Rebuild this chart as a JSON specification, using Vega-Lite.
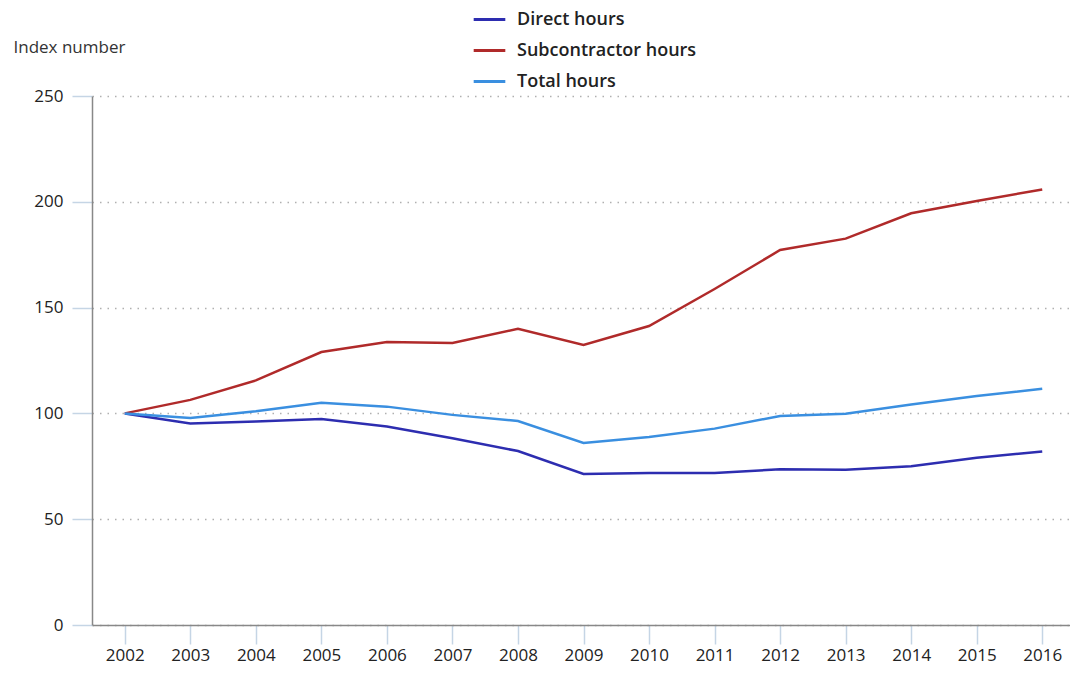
{
  "$schema": "https://vega.github.io/schema/vega-lite/v6.json",
  "autosize": "none",
  "width": 983,
  "height": 529,
  "padding": {"left": 92, "top": 96, "right": 0, "bottom": 48},
  "background": "white",
  "config": {
    "view": {"stroke": null},
    "font": "Open Sans"
  },
  "data": {
    "values": [
      {"year": "2002", "series": "Direct hours", "value": 100},
      {"year": "2003", "series": "Direct hours", "value": 95.2},
      {"year": "2004", "series": "Direct hours", "value": 96.2},
      {"year": "2005", "series": "Direct hours", "value": 97.4},
      {"year": "2006", "series": "Direct hours", "value": 93.8},
      {"year": "2007", "series": "Direct hours", "value": 88.3},
      {"year": "2008", "series": "Direct hours", "value": 82.2},
      {"year": "2009", "series": "Direct hours", "value": 71.4},
      {"year": "2010", "series": "Direct hours", "value": 71.8},
      {"year": "2011", "series": "Direct hours", "value": 71.8},
      {"year": "2012", "series": "Direct hours", "value": 73.6},
      {"year": "2013", "series": "Direct hours", "value": 73.4},
      {"year": "2014", "series": "Direct hours", "value": 75},
      {"year": "2015", "series": "Direct hours", "value": 79},
      {"year": "2016", "series": "Direct hours", "value": 82},
      {"year": "2002", "series": "Subcontractor hours", "value": 100},
      {"year": "2003", "series": "Subcontractor hours", "value": 106.4},
      {"year": "2004", "series": "Subcontractor hours", "value": 115.6},
      {"year": "2005", "series": "Subcontractor hours", "value": 129},
      {"year": "2006", "series": "Subcontractor hours", "value": 133.7},
      {"year": "2007", "series": "Subcontractor hours", "value": 133.3},
      {"year": "2008", "series": "Subcontractor hours", "value": 140},
      {"year": "2009", "series": "Subcontractor hours", "value": 132.3},
      {"year": "2010", "series": "Subcontractor hours", "value": 141.3},
      {"year": "2011", "series": "Subcontractor hours", "value": 158.8},
      {"year": "2012", "series": "Subcontractor hours", "value": 177.2},
      {"year": "2013", "series": "Subcontractor hours", "value": 182.6},
      {"year": "2014", "series": "Subcontractor hours", "value": 194.6},
      {"year": "2015", "series": "Subcontractor hours", "value": 200.4},
      {"year": "2016", "series": "Subcontractor hours", "value": 205.8},
      {"year": "2002", "series": "Total hours", "value": 100},
      {"year": "2003", "series": "Total hours", "value": 97.8},
      {"year": "2004", "series": "Total hours", "value": 101},
      {"year": "2005", "series": "Total hours", "value": 105},
      {"year": "2006", "series": "Total hours", "value": 103.2},
      {"year": "2007", "series": "Total hours", "value": 99.3},
      {"year": "2008", "series": "Total hours", "value": 96.4},
      {"year": "2009", "series": "Total hours", "value": 86},
      {"year": "2010", "series": "Total hours", "value": 88.8},
      {"year": "2011", "series": "Total hours", "value": 92.8},
      {"year": "2012", "series": "Total hours", "value": 98.8},
      {"year": "2013", "series": "Total hours", "value": 99.8},
      {"year": "2014", "series": "Total hours", "value": 104.2},
      {"year": "2015", "series": "Total hours", "value": 108.2},
      {"year": "2016", "series": "Total hours", "value": 111.6}
    ]
  },
  "mark": {"type": "line", "strokeWidth": 2.5},
  "encoding": {
    "x": {
      "field": "year",
      "type": "ordinal",
      "scale": {"type": "point", "padding": 0.5},
      "axis": {
        "title": null,
        "labelAngle": 0,
        "labelFontSize": 17,
        "labelColor": "#222222",
        "labelPadding": 3,
        "tickSize": 19,
        "tickColor": "#c5d5e5",
        "tickWidth": 1.5,
        "domainColor": "#888888",
        "domainWidth": 1.5,
        "grid": false
      }
    },
    "y": {
      "field": "value",
      "type": "quantitative",
      "scale": {"domain": [0, 250], "nice": false},
      "axis": {
        "values": [0, 50, 100, 150, 200, 250],
        "title": "Index number",
        "titleAngle": 0,
        "titleX": -79,
        "titleY": -49,
        "titleAlign": "left",
        "titleBaseline": "middle",
        "titleFontSize": 17,
        "titleFontWeight": "normal",
        "titleColor": "#333333",
        "labelFontSize": 17,
        "labelColor": "#222222",
        "labelPadding": 9,
        "tickSize": 20,
        "tickColor": "#c5d5e5",
        "tickWidth": 1.5,
        "domainColor": "#888888",
        "domainWidth": 1.5,
        "grid": true,
        "gridColor": "#b0b0b0",
        "gridDash": [1.5, 6],
        "gridWidth": 1.5
      }
    },
    "color": {
      "field": "series",
      "type": "nominal",
      "scale": {
        "domain": ["Direct hours", "Subcontractor hours", "Total hours"],
        "range": ["#2d2db0", "#b02a2a", "#3a8fe0"]
      },
      "legend": {
        "title": null,
        "orient": "none",
        "legendX": 380,
        "legendY": -94,
        "direction": "vertical",
        "symbolType": "stroke",
        "symbolSize": 1000,
        "symbolStrokeWidth": 3,
        "labelFontSize": 18,
        "labelFontWeight": 600,
        "labelColor": "#222222",
        "labelLimit": 400,
        "rowPadding": 4,
        "labelOffset": 10
      }
    }
  }
}
